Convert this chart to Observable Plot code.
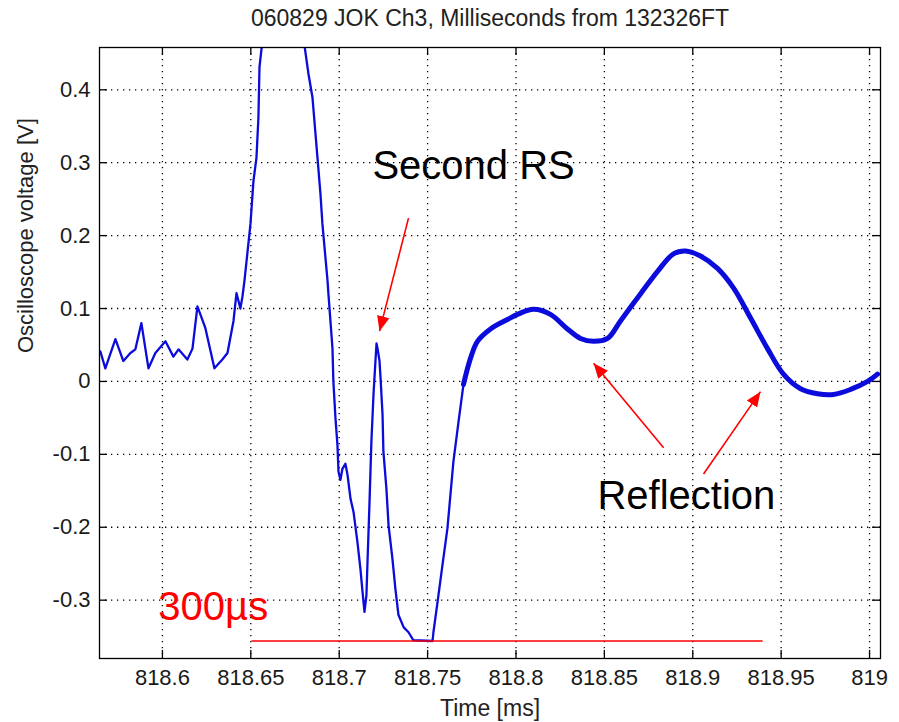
<!DOCTYPE html>
<html>
<head>
<meta charset="utf-8">
<script src="https://cdn.jsdelivr.net/npm/d3@7"></script>
<script src="https://cdn.jsdelivr.net/npm/@observablehq/plot@0.6"></script>
<style>
  body { margin: 0; background: #fff; }
  #chart svg { display: block; }
</style>
</head>
<body>
<div id="chart"></div>
<script>
// ---- Data ----
const time = [
  818.5649, 818.5677, 818.5734, 818.5779, 818.5819, 818.5847, 818.5881, 818.5921, 818.5960, 818.6017,
  818.6062, 818.6091, 818.6141, 818.6170, 818.6198, 818.6243, 818.6294, 818.6339, 818.6368, 818.6402,
  818.6419, 818.6441, 818.6453, 818.6464, 818.6498, 818.6515, 818.6532, 818.6543, 818.6549, 818.6566,
  818.6622, 818.6685, 818.6753,
  818.6804, 818.6826, 818.6849, 818.6877, 818.6894, 818.6905, 818.6934, 818.6939, 818.6962, 818.6967,
  818.6979, 818.6990, 818.6996, 818.7007, 818.7018, 818.7035, 818.7047, 818.7064, 818.7081, 818.7103,
  818.7120, 818.7132, 818.7143, 818.7154, 818.7160, 818.7171, 818.7182, 818.7194, 818.7205, 818.7211,
  818.7217, 818.7228, 818.7234, 818.7245, 818.7250, 818.7267, 818.7279, 818.7301, 818.7318, 818.7335,
  818.7364, 818.7392, 818.7420, 818.7528, 818.7533, 818.7556, 818.7584, 818.7612, 818.7646, 818.7675,
  818.7703, 818.7743, 818.7782, 818.7856, 818.7952, 818.8009, 818.8099, 818.8195, 818.8291, 818.8365,
  818.8438, 818.8518, 818.8591, 818.8704, 818.8801, 818.8891, 818.8959, 818.9044, 818.9140, 818.9231,
  818.9327, 818.9423, 818.9513, 818.9610, 818.9706, 818.9796, 818.9893, 818.9989, 819.0045
];
const voltage = [
  0.041, 0.018, 0.058, 0.028, 0.039, 0.044, 0.080, 0.018, 0.039, 0.055,
  0.034, 0.044, 0.030, 0.045, 0.103, 0.073, 0.018, 0.030, 0.039, 0.083,
  0.121, 0.100, 0.117, 0.138, 0.216, 0.275, 0.307, 0.362, 0.431, 0.468,
  0.540, 0.570, 0.530,
  0.460, 0.422, 0.389, 0.307, 0.257, 0.216, 0.138, 0.120, 0.045, 0.000,
  -0.051, -0.087, -0.124, -0.135, -0.120, -0.113, -0.128, -0.161, -0.179, -0.220,
  -0.257, -0.289, -0.316, -0.293, -0.248, -0.169, -0.083, -0.018, 0.028, 0.052,
  0.045, 0.028, 0.004, -0.045, -0.096, -0.147, -0.197, -0.243, -0.285, -0.320,
  -0.337, -0.344, -0.355, -0.356, -0.344, -0.303, -0.252, -0.202, -0.110, -0.055,
  -0.004, 0.032, 0.055, 0.072, 0.085, 0.092, 0.099, 0.092, 0.072, 0.059,
  0.055, 0.059, 0.083, 0.120, 0.151, 0.175, 0.179, 0.172, 0.155, 0.128,
  0.087, 0.045, 0.010, -0.010, -0.017, -0.018, -0.011, 0.000, 0.010
];

const xTicks = [818.6, 818.65, 818.7, 818.75, 818.8, 818.85, 818.9, 818.95, 819];
const xTickLabels = ["818.6", "818.65", "818.7", "818.75", "818.8", "818.85", "818.9", "818.95", "819"];
const yTicks = [-0.3, -0.2, -0.1, 0, 0.1, 0.2, 0.3, 0.4];
const yTickLabels = ["-0.3", "-0.2", "-0.1", "0", "0.1", "0.2", "0.3", "0.4"];

const titleText = "060829 JOK Ch3, Milliseconds from 132326FT";
const xLabelText = "Time [ms]";
const yLabelText = "Oscilloscope voltage [V]";

const noteText = ["Second RS", "Reflection"];
const noteTime = [818.7188, 818.8461];
const noteVolt = [0.278, -0.175];

const scaleText = "300µs";
const scaleTextTime = 818.5977;
const scaleTextVolt = -0.327;
const scaleBarTime = [818.6506, 818.9398];
const scaleBarVolt = -0.356;

const arrowFromT = [818.7392, 818.8835, 818.9061];
const arrowFromV = [0.224, -0.091, -0.127];
const arrowToT   = [818.7228, 818.8439, 818.9383];
const arrowToV   = [0.069, 0.025, -0.014];

const xDomain = [818.5644, 819.0062];
const yDomain = [-0.380, 0.458];

// ---- Build tables ----
const trace = time.map((t, i) => ({t, v: voltage[i]}));
const roughPart = trace.filter(d => d.t <= 818.7743);
const smoothPart = trace.filter(d => d.t >= 818.7703);
const notes = noteText.map((s, i) => ({s, t: noteTime[i], v: noteVolt[i]}));
const arrows = arrowFromT.map((t, i) => ({t1: t, v1: arrowFromV[i], t2: arrowToT[i], v2: arrowToV[i]}));

const W = 899, H = 722;
const mL = 99, mR = 19, mT = 47, mB = 64;
const fW = W - mL - mR, fH = H - mT - mB;
const font = "'Liberation Sans', Arial, Helvetica, sans-serif";

const plot = Plot.plot({
  width: W,
  height: H,
  marginLeft: mL,
  marginRight: mR,
  marginTop: mT,
  marginBottom: mB,
  style: {fontFamily: font, fontSize: "22px", color: "#1a1a1a", background: "#fff"},
  x: {
    domain: xDomain,
    ticks: xTicks,
    tickFormat: d => xTickLabels[xTicks.indexOf(d)],
    tickSize: 0,
    tickPadding: 11,
    label: null
  },
  y: {
    domain: yDomain,
    ticks: yTicks,
    tickFormat: d => yTickLabels[yTicks.indexOf(d)],
    tickSize: 0,
    tickPadding: 9,
    label: null
  },
  marks: [
    // dotted grid
    Plot.ruleX(xTicks, {x: d => d, stroke: "#000", strokeWidth: 1.3, strokeDasharray: "1.3,4.7"}),
    Plot.ruleY(yTicks, {y: d => d, stroke: "#000", strokeWidth: 1.3, strokeDasharray: "1.3,4.7"}),
    // inward ticks (bottom, top, left, right)
    Plot.tickX(xTicks, {x: d => d, stroke: "#000", strokeWidth: 1.3, insetTop: fH - 8}),
    Plot.tickX(xTicks, {x: d => d, stroke: "#000", strokeWidth: 1.3, insetBottom: fH - 8}),
    Plot.tickY(yTicks, {y: d => d, stroke: "#000", strokeWidth: 1.3, insetRight: fW - 8}),
    Plot.tickY(yTicks, {y: d => d, stroke: "#000", strokeWidth: 1.3, insetLeft: fW - 8}),
    // waveform
    Plot.line(roughPart, {x: "t", y: "v", stroke: "#0b0bdc", strokeWidth: 2.3, clip: true}),
    Plot.line(smoothPart, {x: "t", y: "v", stroke: "#0b0bdc", strokeWidth: 5, curve: "catmull-rom", clip: true}),
    // red scale bar
    Plot.ruleY([scaleBarVolt], {y: d => d, x1: scaleBarTime[0], x2: scaleBarTime[1], stroke: "#ff0000", strokeWidth: 1.5}),
    Plot.text([scaleText], {x: scaleTextTime, y: scaleTextVolt, text: d => d, fill: "#ff0000", fontSize: 40, textAnchor: "start", lineAnchor: "bottom"}),
    // annotations
    Plot.text(notes, {x: "t", y: "v", text: "s", fill: "#000", fontSize: 40, textAnchor: "start", lineAnchor: "bottom"}),
    Plot.link(arrows, {x1: "t1", y1: "v1", x2: "t2", y2: "v2", stroke: "#ff0000", strokeWidth: 1.6}),
    // frame
    Plot.frame({stroke: "#000", strokeWidth: 1.3}),
    // title and axis labels
    Plot.text([titleText], {frameAnchor: "top", dy: -29, text: d => d, fontSize: 23, fill: "#222", lineAnchor: "middle"}),
    Plot.text([xLabelText], {frameAnchor: "bottom", dy: 57, text: d => d, fontSize: 23, fill: "#222", lineAnchor: "bottom"}),
    Plot.text([yLabelText], {frameAnchor: "left", dx: -74, rotate: -90, text: d => d, fontSize: 22, fill: "#222", lineAnchor: "middle"})
  ]
});

// filled arrowheads for the red links
const svg = d3.select(plot);
const defs = svg.insert("defs", ":first-child");
defs.append("marker")
  .attr("id", "redhead")
  .attr("viewBox", "0 -5 10 10")
  .attr("refX", 10)
  .attr("refY", 0)
  .attr("markerUnits", "userSpaceOnUse")
  .attr("markerWidth", 15)
  .attr("markerHeight", 15)
  .attr("orient", "auto")
  .append("path")
  .attr("d", "M0,-4.2L10,0L0,4.2Z")
  .attr("fill", "#ff0000");
svg.selectAll('g[aria-label="link"] path').attr("marker-end", "url(#redhead)");

document.getElementById("chart").appendChild(plot);
</script>
</body>
</html>
